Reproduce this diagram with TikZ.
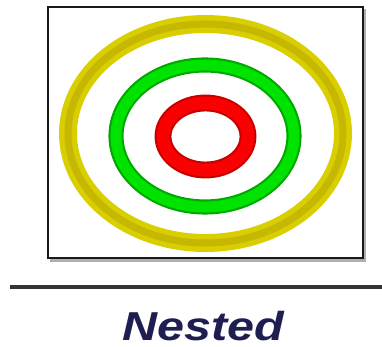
\documentclass[tikz,border=0pt]{standalone}
\usepackage{fontspec}
\setmainfont{Liberation Sans}
\usepackage{tikz}
\usetikzlibrary{positioning}
\definecolor{myyellow}{RGB}{216,206,0}
\definecolor{myolive}{RGB}{198,184,0}
\definecolor{mygreen}{RGB}{0,226,0}
\definecolor{mydkgreen}{RGB}{0,168,0}
\definecolor{myred}{RGB}{250,0,0}
\definecolor{mydkred}{RGB}{200,0,0}
\definecolor{myframe}{RGB}{25,25,25}
\definecolor{myshadow}{RGB}{175,175,175}
\definecolor{mynavy}{RGB}{30,30,80}
\tikzset{
  ring/.style={line width=#1},
  frame/.style={draw=myframe, line width=1.7pt},
  rule/.style={draw=mydark, line width=1.8pt},
  caption/.style={font=\fontsize{23}{25}\selectfont\bfseries\itshape,
    text=mynavy, xscale=1.2, inner sep=0pt, anchor=base}
}
\colorlet{mydark}{black!80}
\begin{document}
\begin{tikzpicture}[x=0.02cm, y=-0.02cm]
  \useasboundingbox (0,0) rectangle (382,347);
  % Frame with shadow
  \fill[myshadow] (50,9) rectangle (366,262);
  \fill[white] (48,7) rectangle (363,258);
  \draw[frame] (48,7) rectangle (363,258);
  % Outer ring
  \draw[ring=10.2pt, myyellow] (205.5,133.5) ellipse (137.5 and 109.5);
  \draw[ring=4pt, myolive] (205.5,133.5) ellipse (137.5 and 109.5);
  % Middle ring
  \draw[ring=8.6pt, mydkgreen] (205,136) ellipse (89 and 71);
  \draw[ring=6.2pt, mygreen] (205,136) ellipse (89 and 71);
  % Inner ring
  \draw[ring=9.6pt, mydkred] (205.5,136.5) ellipse (42.5 and 33.5);
  \draw[ring=7.2pt, myred] (205.5,136.5) ellipse (42.5 and 33.5);
  % Rule and caption
  \draw[rule] (10,287) -- (382,287);
  \node[caption] (nested) at (203,341) {Nested};
\end{tikzpicture}
\end{document}
